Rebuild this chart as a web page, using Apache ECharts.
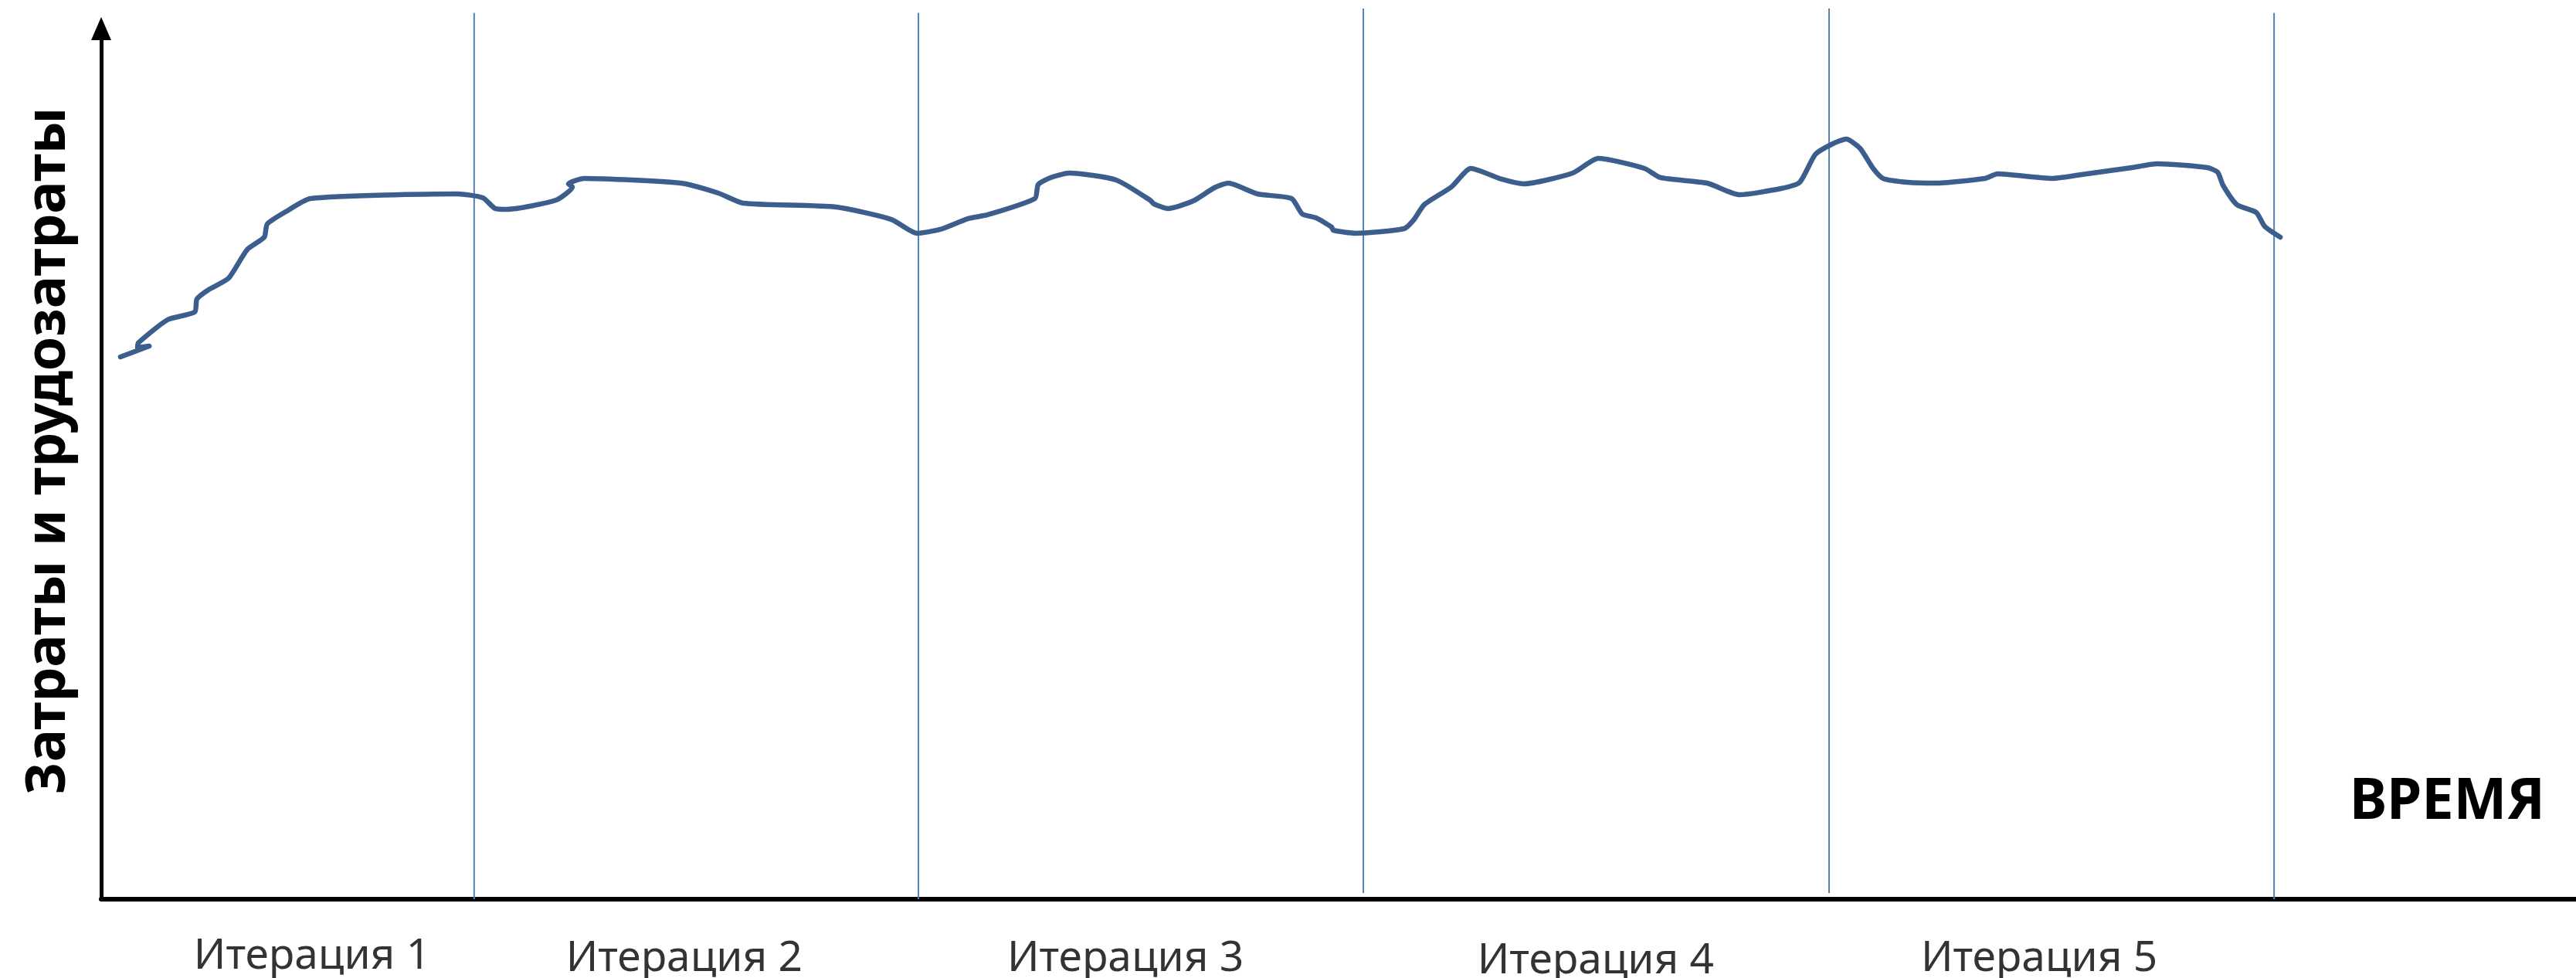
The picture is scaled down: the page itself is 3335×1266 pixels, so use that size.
<!DOCTYPE html>
<html>
<head>
<meta charset="utf-8">
<script src="https://cdn.jsdelivr.net/npm/echarts@6/dist/echarts.min.js"></script>
<style>
html,body{margin:0;padding:0;background:#fff;}
#chart{width:3335px;height:1266px;}
</style>
</head>
<body>
<div id="chart"></div>
<script>
// Time (0..100) and cost (0..100)
const timeValues = [0.78,1.94,1.47,1.50,2.68,3.78,3.87,4.34,5.15,5.90,6.59,6.71,7.46,8.46,14.39,15.42,15.92,16.39,18.38,19.04,18.88,19.51,23.41,24.94,25.94,29.68,31.93,32.96,33.90,35.02,35.83,37.73,37.86,38.36,39.11,41.01,42.38,42.54,43.10,44.13,44.98,45.54,46.72,48.10,48.53,49.09,49.72,49.78,50.69,52.65,53.03,53.46,54.56,55.34,56.59,57.49,59.46,60.49,62.36,63.01,64.89,66.20,67.88,68.63,69.26,69.91,70.51,71.07,71.60,72.00,73.00,74.09,76.12,76.62,78.84,80.24,82.05,83.08,85.11,85.52,85.74,86.30,87.08,87.42,88.05];
const costValues = [62.29,63.53,63.35,63.89,66.55,67.44,68.94,70.01,71.34,74.62,76.04,77.55,78.97,80.48,81.01,80.57,79.33,79.24,80.30,81.81,82.17,82.79,82.25,81.10,79.95,79.50,78.08,76.49,76.93,78.17,78.62,80.48,82.08,82.88,83.41,82.61,80.30,79.86,79.33,80.21,81.72,82.25,81.01,80.48,78.71,78.26,77.20,76.84,76.49,77.02,78.00,79.77,81.81,83.94,82.70,82.17,83.41,85.09,83.94,82.88,82.25,80.92,81.63,82.34,85.54,86.69,87.31,86.25,83.94,82.79,82.34,82.25,82.79,83.32,82.79,83.32,84.03,84.47,84.03,83.50,81.99,79.77,78.88,77.28,76.04];

// Iteration boundaries (time) and the extents of each divider line (cost units)
const boundaryTimes = [15.07, 33.02, 51.00, 69.82, 87.80];
const boundaryTop = [101.8, 101.8, 102.3, 102.3, 101.8];
const boundaryBottom = [0, 0, 0.7, 0.7, 0];

// Iteration labels
const iterationLabels = ['Итерация 1','Итерация 2','Итерация 3','Итерация 4','Итерация 5'];
const iterationLabelTimes = [8.52, 23.56, 41.39, 60.39, 78.31];
const iterationLabelLevel = [-6.6, -6.9, -6.9, -7.1, -6.9];

const yTitle = 'Затраты и трудозатраты';
const xTitle = 'ВРЕМЯ';

const FONT = '"Noto Sans", "Open Sans", sans-serif';

const curve = timeValues.map((t, i) => [t, costValues[i]]);

const series = [];
boundaryTimes.forEach((t, i) => {
  series.push({
    type: 'line',
    data: [[t, boundaryBottom[i]], [t, boundaryTop[i]]],
    symbol: 'none',
    clip: false,
    silent: true,
    lineStyle: { color: '#4f81bd', width: 2 },
    z: 1
  });
});
series.push({
  type: 'line',
  data: curve,
  symbol: 'none',
  smooth: 0.2,
  clip: false,
  lineStyle: { color: '#3b5e8c', width: 6.5, cap: 'round', join: 'round' },
  z: 3
});
series.push({
  type: 'scatter',
  data: iterationLabelTimes.map((t, i) => ({ value: [t, iterationLabelLevel[i]], name: iterationLabels[i] })),
  symbolSize: 0,
  clip: false,
  silent: true,
  label: {
    show: true,
    position: 'inside',
    formatter: p => p.name,
    fontFamily: FONT,
    fontSize: 55,
    color: '#000'
  }
});

const chart = echarts.init(document.getElementById('chart'), null, { renderer: 'canvas' });
chart.setOption({
  animation: false,
  backgroundColor: '#fff',
  title: {
    text: xTitle,
    right: 40,
    top: 1003,
    padding: 0,
    textStyle: { fontFamily: FONT, fontSize: 73, fontWeight: 'bold', color: '#000' }
  },
  grid: { left: 131, right: 0, top: 37, bottom: 102, containLabel: false },
  xAxis: {
    type: 'value',
    min: 0, max: 100,
    axisLine: { show: true, onZero: false, lineStyle: { color: '#000', width: 6 } },
    axisTick: { show: false },
    axisLabel: { show: false },
    splitLine: { show: false }
  },
  yAxis: {
    type: 'value',
    min: 0, max: 100,
    axisLine: {
      show: true, onZero: false,
      symbol: ['none', 'triangle'],
      symbolSize: [26, 30],
      lineStyle: { color: '#000', width: 5 }
    },
    axisTick: { show: false },
    axisLabel: { show: false },
    splitLine: { show: false },
    name: yTitle,
    nameLocation: 'middle',
    nameRotate: 90,
    nameGap: 32,
    nameTextStyle: { fontFamily: FONT, fontSize: 71, fontWeight: 'bold', color: '#000', padding: [0, 0, 0, 34] }
  },
  series: series
});
</script>
</body>
</html>
